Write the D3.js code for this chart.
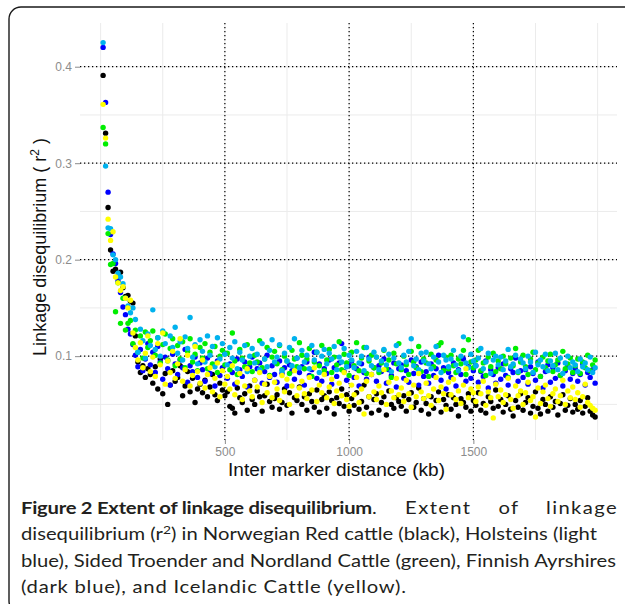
<!DOCTYPE html>
<html>
<head>
<meta charset="utf-8">
<script src="https://cdn.jsdelivr.net/npm/d3@7"></script>
<style>
body { margin: 0; background: #fff; }
</style>
</head>
<body>
<div id="chart"></div>
<script>
// inter marker distance (kb)
var distances = [
	10, 20, 30, 40, 50, 60, 70, 80, 90, 100,
	110, 120, 130, 140, 150, 160, 170, 180, 190, 200,
	210, 220, 230, 240, 250, 260, 270, 280, 290, 300,
	310, 320, 330, 340, 350, 360, 370, 380, 390, 400,
	410, 420, 430, 440, 450, 460, 470, 480, 490, 500,
	510, 520, 530, 540, 550, 560, 570, 580, 590, 600,
	610, 620, 630, 640, 650, 660, 670, 680, 690, 700,
	710, 720, 730, 740, 750, 760, 770, 780, 790, 800,
	810, 820, 830, 840, 850, 860, 870, 880, 890, 900,
	910, 920, 930, 940, 950, 960, 970, 980, 990, 1000,
	1010, 1020, 1030, 1040, 1050, 1060, 1070, 1080, 1090, 1100,
	1110, 1120, 1130, 1140, 1150, 1160, 1170, 1180, 1190, 1200,
	1210, 1220, 1230, 1240, 1250, 1260, 1270, 1280, 1290, 1300,
	1310, 1320, 1330, 1340, 1350, 1360, 1370, 1380, 1390, 1400,
	1410, 1420, 1430, 1440, 1450, 1460, 1470, 1480, 1490, 1500,
	1510, 1520, 1530, 1540, 1550, 1560, 1570, 1580, 1590, 1600,
	1610, 1620, 1630, 1640, 1650, 1660, 1670, 1680, 1690, 1700,
	1710, 1720, 1730, 1740, 1750, 1760, 1770, 1780, 1790, 1800,
	1810, 1820, 1830, 1840, 1850, 1860, 1870, 1880, 1890, 1900,
	1910, 1920, 1930, 1940, 1950, 1960, 1970, 1980, 1990
]

// r2 per breed
var norwegianRed = [
	0.391, 0.331, 0.254, 0.210, 0.188, 0.190, 0.181, 0.187, 0.171, 0.162,
	0.163, 0.157, 0.155, 0.121, 0.094, 0.083, 0.090, 0.078, 0.087, 0.081,
	0.072, 0.089, 0.066, 0.097, 0.061, 0.082, 0.050, 0.070, 0.085, 0.074,
	0.078, 0.090, 0.059, 0.069, 0.084, 0.063, 0.077, 0.052, 0.066, 0.071,
	0.062, 0.075, 0.058, 0.068, 0.081, 0.060, 0.054, 0.072, 0.065, 0.059,
	0.063, 0.048, 0.046, 0.041, 0.067, 0.057, 0.052, 0.061, 0.044, 0.069,
	0.055, 0.050, 0.064, 0.058, 0.043, 0.059, 0.071, 0.053, 0.047, 0.056,
	0.060, 0.045, 0.052, 0.066, 0.049, 0.062, 0.041, 0.057, 0.054, 0.068,
	0.050, 0.058, 0.044, 0.061, 0.053, 0.047, 0.065, 0.042, 0.055, 0.059,
	0.046, 0.063, 0.054, 0.040, 0.057, 0.051, 0.066, 0.048, 0.060, 0.043,
	0.056, 0.049, 0.062, 0.045, 0.053, 0.070, 0.047, 0.058, 0.041, 0.055,
	0.061, 0.044, 0.052, 0.058, 0.039, 0.064, 0.050, 0.046, 0.057, 0.053,
	0.048, 0.059, 0.043, 0.055, 0.062, 0.047, 0.052, 0.067, 0.044, 0.056,
	0.051, 0.040, 0.058, 0.046, 0.054, 0.063, 0.042, 0.055, 0.049, 0.060,
	0.045, 0.057, 0.050, 0.038, 0.056, 0.052, 0.047, 0.061, 0.043, 0.054,
	0.049, 0.062, 0.044, 0.051, 0.041, 0.058, 0.053, 0.046, 0.065, 0.048,
	0.055, 0.042, 0.050, 0.059, 0.045, 0.038, 0.054, 0.047, 0.061, 0.044,
	0.052, 0.057, 0.041, 0.048, 0.063, 0.046, 0.040, 0.055, 0.050, 0.043,
	0.058, 0.047, 0.053, 0.039, 0.051, 0.060, 0.044, 0.049, 0.056, 0.042,
	0.050, 0.045, 0.054, 0.041, 0.048, 0.057, 0.043, 0.039, 0.037
]
var holsteins = [
	0.425, 0.297, 0.233, 0.232, 0.205, 0.200, 0.186, 0.182, 0.175, 0.160,
	0.152, 0.145, 0.150, 0.138, 0.104, 0.128, 0.116, 0.098, 0.123, 0.111,
	0.148, 0.107, 0.119, 0.100, 0.126, 0.113, 0.095, 0.121, 0.109, 0.130,
	0.103, 0.115, 0.096, 0.120, 0.108, 0.140, 0.099, 0.112, 0.092, 0.117,
	0.105, 0.094, 0.121, 0.101, 0.110, 0.089, 0.119, 0.097, 0.113, 0.102,
	0.091, 0.109, 0.098, 0.115, 0.087, 0.104, 0.096, 0.111, 0.084, 0.100,
	0.108, 0.093, 0.102, 0.086, 0.113, 0.097, 0.089, 0.106, 0.117, 0.094,
	0.099, 0.112, 0.085, 0.103, 0.095, 0.109, 0.090, 0.118, 0.098, 0.088,
	0.106, 0.094, 0.101, 0.087, 0.111, 0.096, 0.104, 0.083, 0.100, 0.107,
	0.092, 0.103, 0.097, 0.110, 0.086, 0.099, 0.094, 0.108, 0.089, 0.101,
	0.096, 0.088, 0.105, 0.093, 0.100, 0.085, 0.109, 0.097, 0.090, 0.104,
	0.099, 0.086, 0.095, 0.107, 0.091, 0.102, 0.084, 0.098, 0.111, 0.093,
	0.088, 0.101, 0.094, 0.105, 0.118, 0.090, 0.097, 0.086, 0.103, 0.095,
	0.104, 0.092, 0.087, 0.099, 0.110, 0.094, 0.083, 0.101, 0.096, 0.089,
	0.097, 0.106, 0.091, 0.085, 0.100, 0.120, 0.093, 0.088, 0.102, 0.095,
	0.090, 0.098, 0.108, 0.087, 0.094, 0.103, 0.082, 0.096, 0.100, 0.091,
	0.099, 0.086, 0.095, 0.107, 0.089, 0.092, 0.101, 0.084, 0.097, 0.093,
	0.087, 0.100, 0.094, 0.083, 0.104, 0.091, 0.096, 0.089, 0.102, 0.085,
	0.095, 0.090, 0.103, 0.086, 0.098, 0.082, 0.093, 0.100, 0.088, 0.094,
	0.091, 0.084, 0.097, 0.089, 0.093, 0.086, 0.099, 0.083, 0.088
]
var sidedTroender = [
	0.337, 0.320, 0.227, 0.195, 0.196, 0.146, 0.176, 0.134, 0.160, 0.127,
	0.134, 0.137, 0.113, 0.127, 0.104, 0.121, 0.098, 0.125, 0.109, 0.116,
	0.126, 0.101, 0.119, 0.093, 0.112, 0.123, 0.096, 0.108, 0.118, 0.090,
	0.111, 0.097, 0.115, 0.088, 0.105, 0.118, 0.094, 0.102, 0.085, 0.109,
	0.098, 0.113, 0.087, 0.104, 0.092, 0.110, 0.083, 0.100, 0.106, 0.091,
	0.103, 0.086, 0.124, 0.095, 0.081, 0.107, 0.098, 0.089, 0.112, 0.093,
	0.084, 0.101, 0.094, 0.116, 0.088, 0.097, 0.109, 0.080, 0.099, 0.105,
	0.092, 0.111, 0.086, 0.100, 0.095, 0.082, 0.106, 0.097, 0.089, 0.114,
	0.101, 0.087, 0.097, 0.108, 0.079, 0.094, 0.104, 0.090, 0.111, 0.085,
	0.096, 0.107, 0.083, 0.099, 0.091, 0.115, 0.086, 0.102, 0.093, 0.080,
	0.104, 0.090, 0.114, 0.085, 0.098, 0.109, 0.082, 0.095, 0.101, 0.088,
	0.099, 0.083, 0.093, 0.106, 0.087, 0.096, 0.078, 0.103, 0.092, 0.113,
	0.086, 0.100, 0.091, 0.081, 0.105, 0.094, 0.088, 0.110, 0.084, 0.097,
	0.093, 0.079, 0.102, 0.089, 0.096, 0.111, 0.114, 0.085, 0.099, 0.087,
	0.101, 0.090, 0.083, 0.097, 0.092, 0.106, 0.081, 0.117, 0.094, 0.088,
	0.096, 0.106, 0.085, 0.093, 0.080, 0.099, 0.089, 0.103, 0.084, 0.095,
	0.087, 0.100, 0.092, 0.078, 0.098, 0.090, 0.108, 0.083, 0.094, 0.101,
	0.089, 0.081, 0.097, 0.104, 0.086, 0.093, 0.079, 0.099, 0.088, 0.095,
	0.102, 0.084, 0.091, 0.096, 0.080, 0.105, 0.087, 0.092, 0.098, 0.083,
	0.090, 0.097, 0.082, 0.094, 0.088, 0.101, 0.085, 0.091, 0.096
]
var finnishAyrshire = [
	0.420, 0.363, 0.270, 0.226, 0.206, 0.196, 0.178, 0.166, 0.151, 0.143,
	0.128, 0.123, 0.112, 0.101, 0.089, 0.107, 0.085, 0.097, 0.113, 0.091,
	0.104, 0.083, 0.110, 0.094, 0.076, 0.099, 0.087, 0.070, 0.102, 0.092,
	0.081, 0.096, 0.088, 0.107, 0.073, 0.090, 0.084, 0.099, 0.078, 0.093,
	0.086, 0.074, 0.098, 0.082, 0.091, 0.069, 0.095, 0.080, 0.088, 0.103,
	0.077, 0.092, 0.083, 0.071, 0.097, 0.086, 0.079, 0.094, 0.068, 0.089,
	0.099, 0.075, 0.087, 0.093, 0.072, 0.084, 0.101, 0.078, 0.090, 0.081,
	0.073, 0.095, 0.082, 0.088, 0.069, 0.091, 0.085, 0.076, 0.098, 0.083,
	0.089, 0.070, 0.094, 0.080, 0.086, 0.104, 0.077, 0.092, 0.074, 0.087,
	0.082, 0.096, 0.071, 0.088, 0.079, 0.093, 0.113, 0.084, 0.075, 0.090,
	0.095, 0.078, 0.087, 0.069, 0.092, 0.083, 0.076, 0.099, 0.081, 0.088,
	0.074, 0.090, 0.084, 0.097, 0.072, 0.086, 0.080, 0.093, 0.068, 0.087,
	0.091, 0.077, 0.085, 0.073, 0.096, 0.082, 0.089, 0.070, 0.094, 0.079,
	0.084, 0.072, 0.092, 0.080, 0.087, 0.101, 0.075, 0.088, 0.066, 0.083,
	0.078, 0.093, 0.069, 0.086, 0.081, 0.097, 0.074, 0.089, 0.077, 0.085,
	0.090, 0.073, 0.084, 0.079, 0.095, 0.067, 0.086, 0.081, 0.072, 0.088,
	0.076, 0.092, 0.080, 0.070, 0.087, 0.083, 0.098, 0.074, 0.085, 0.078,
	0.086, 0.071, 0.089, 0.082, 0.075, 0.094, 0.079, 0.067, 0.084, 0.091,
	0.073, 0.088, 0.077, 0.093, 0.080, 0.069, 0.085, 0.090, 0.076, 0.082,
	0.087, 0.074, 0.081, 0.092, 0.070, 0.083, 0.078, 0.086, 0.072
]
var icelandic = [
	0.361, 0.326, 0.242, 0.220, 0.229, 0.182, 0.176, 0.168, 0.172, 0.160,
	0.150, 0.158, 0.124, 0.109, 0.096, 0.114, 0.088, 0.103, 0.121, 0.084,
	0.099, 0.079, 0.113, 0.091, 0.124, 0.071, 0.095, 0.083, 0.105, 0.077,
	0.092, 0.118, 0.074, 0.086, 0.101, 0.069, 0.080, 0.110, 0.084, 0.072,
	0.096, 0.067, 0.081, 0.088, 0.063, 0.077, 0.093, 0.058, 0.085, 0.071,
	0.079, 0.066, 0.090, 0.060, 0.073, 0.082, 0.055, 0.069, 0.087, 0.064,
	0.058, 0.075, 0.068, 0.083, 0.052, 0.071, 0.062, 0.079, 0.057, 0.073,
	0.066, 0.054, 0.080, 0.063, 0.076, 0.050, 0.069, 0.085, 0.059, 0.067,
	0.074, 0.061, 0.056, 0.078, 0.065, 0.088, 0.053, 0.070, 0.062, 0.081,
	0.057, 0.068, 0.076, 0.051, 0.064, 0.072, 0.059, 0.083, 0.055, 0.048,
	0.070, 0.060, 0.078, 0.052, 0.066, 0.040, 0.074, 0.058, 0.081, 0.063,
	0.055, 0.069, 0.062, 0.086, 0.050, 0.073, 0.064, 0.057, 0.077, 0.060,
	0.067, 0.053, 0.075, 0.061, 0.047, 0.070, 0.058, 0.082, 0.063, 0.056,
	0.072, 0.059, 0.049, 0.066, 0.078, 0.054, 0.068, 0.061, 0.045, 0.073,
	0.060, 0.076, 0.055, 0.064, 0.051, 0.070, 0.087, 0.057, 0.066, 0.062,
	0.053, 0.068, 0.061, 0.074, 0.049, 0.063, 0.057, 0.036, 0.071, 0.058,
	0.065, 0.052, 0.060, 0.077, 0.055, 0.046, 0.069, 0.059, 0.064, 0.050,
	0.062, 0.073, 0.054, 0.058, 0.037, 0.067, 0.051, 0.063, 0.070, 0.056,
	0.048, 0.061, 0.066, 0.053, 0.059, 0.075, 0.050, 0.064, 0.057, 0.068,
	0.055, 0.062, 0.047, 0.058, 0.071, 0.052, 0.049, 0.046, 0.044
]

// breeds in drawing order (yellow ends on top)
var breedNames = ['Norwegian Red', 'Finnish Ayrshires', 'Sided Troender and Nordland', 'Holsteins', 'Icelandic']
var breedColors = ['#000000', '#0000ff', '#00ee00', '#00b2ee', '#ffff00']
var breedValues = [norwegianRed, finnishAyrshire, sidedTroender, holsteins, icelandic]

// ticks and grid
var xTicks = [500, 1000, 1500]
var yTicks = [0.1, 0.2, 0.3, 0.4]
var xGrid = [0, 250, 500, 750, 1000, 1250, 1500, 1750, 2000]
var yGrid = [0.05, 0.1, 0.15, 0.2, 0.25, 0.3, 0.35, 0.4]

// caption lines; justified lines use word spacing, the last one only widens its letters
var captionLines = [
	{ 'bold': 'Figure 2 Extent of linkage disequilibrium', 'boldWidth': 351, 'text': '. Extent of linkage', 'fit': 597 },
	{ 'text': 'disequilibrium (r', 'sup': '2', 'after': ') in Norwegian Red cattle (black), Holsteins (light', 'fit': 576 },
	{ 'text': 'blue), Sided Troender and Nordland Cattle (green), Finnish Ayrshires', 'fit': 595 },
	{ 'text': '(dark blue), and Icelandic Cattle (yellow).', 'fit': 385, 'last': true }
]

var visWidth = 625,
		visHeight = 604

var panel = { left: 80, right: 617, top: 23, bottom: 440 }

var vis = d3.select('#chart')
	.append('svg')
		.attr('width', visWidth)
		.attr('height', visHeight)
		.style('font-family', 'Liberation Sans, Arial, sans-serif')

// rounded figure frame, cut by the window on the right and bottom
vis.append('rect')
	.attr('x', 9)
	.attr('y', 7)
	.attr('width', 660)
	.attr('height', 606)
	.attr('rx', 12)
	.attr('fill', 'none')
	.attr('stroke', '#1a1a1a')
	.attr('stroke-width', 1.4)

var x = d3.scaleLinear()
	.domain([-83, 2078])
	.range([panel.left, panel.right])

var y = d3.scaleLinear()
	.domain([0.0131, 0.4453])
	.range([panel.bottom, panel.top])

// light grid
vis.append('g')
	.selectAll('line')
		.data(xGrid).enter()
	.append('line')
		.attr('x1', function(d) { return x(d) })
		.attr('x2', function(d) { return x(d) })
		.attr('y1', panel.top)
		.attr('y2', panel.bottom)
		.attr('stroke', '#ebebeb')
		.attr('stroke-width', 1)

vis.append('g')
	.selectAll('line')
		.data(yGrid).enter()
	.append('line')
		.attr('x1', panel.left)
		.attr('x2', panel.right)
		.attr('y1', function(d) { return y(d) })
		.attr('y2', function(d) { return y(d) })
		.attr('stroke', '#ebebeb')
		.attr('stroke-width', 1)

// dotted reference lines
vis.append('g')
	.selectAll('line')
		.data(xTicks).enter()
	.append('line')
		.attr('x1', function(d) { return x(d) })
		.attr('x2', function(d) { return x(d) })
		.attr('y1', panel.top)
		.attr('y2', panel.bottom)
		.attr('stroke', '#000')
		.attr('stroke-width', 1.2)
		.attr('stroke-dasharray', '1.3,2.7')

vis.append('g')
	.selectAll('line')
		.data(yTicks).enter()
	.append('line')
		.attr('x1', panel.left)
		.attr('x2', panel.right)
		.attr('y1', function(d) { return y(d) })
		.attr('y2', function(d) { return y(d) })
		.attr('stroke', '#000')
		.attr('stroke-width', 1.2)
		.attr('stroke-dasharray', '1.3,2.7')

// axes
vis.append('g')
	.attr('transform', 'translate(0,' + panel.bottom + ')')
	.call(d3.axisBottom(x).tickValues(xTicks).tickSize(4).tickPadding(3).tickFormat(d3.format('d')))

vis.append('g')
	.attr('transform', 'translate(' + panel.left + ',0)')
	.call(d3.axisLeft(y).tickValues(yTicks).tickSize(5).tickPadding(3).tickFormat(d3.format('.1f')))

vis.selectAll('.domain').remove()
vis.selectAll('.tick line').attr('stroke', '#8c8c8c')
vis.selectAll('.tick text')
	.attr('fill', '#8c8c8c')
	.style('font-family', 'Liberation Sans, Arial, sans-serif')
	.style('font-size', '12px')

// points
breedValues.forEach(function(values, i) {
	vis.append('g')
		.attr('class', 'breed')
		.selectAll('circle')
			.data(values).enter()
		.append('circle')
			.attr('cx', function(d, j) { return x(distances[j]) })
			.attr('cy', function(d) { return y(d) })
			.attr('r', 2.7)
			.attr('fill', breedColors[i])
})

// axis titles
vis.append('text')
	.attr('x', 336.5)
	.attr('y', 476)
	.attr('text-anchor', 'middle')
	.attr('textLength', 217)
	.attr('lengthAdjust', 'spacingAndGlyphs')
	.style('font-size', '18px')
	.attr('fill', '#111')
	.text('Inter marker distance (kb)')

var yTitle = vis.append('text')
	.attr('transform', 'translate(46,' + 247 + ') rotate(-90)')
	.attr('text-anchor', 'middle')
	.style('font-size', '18px')
	.attr('fill', '#111')

yTitle.append('tspan').text('Linkage disequilibrium ( r')
yTitle.append('tspan').attr('dy', -7).style('font-size', '12px').text('2')
yTitle.append('tspan').attr('dy', 7).text(' )')

// caption
var captionLeft = 21
var caption = vis.append('g')
	.style('font-family', 'Lato, sans-serif')
	.style('font-size', '17.5px')
	.attr('fill', '#231f20')

var captionParts = captionLines.map(function(line, i) {
	var t = caption.append('text')
		.attr('x', 0)
		.attr('y', 514 + i * 26.5)
	var b = null
	if (line.bold) {
		b = t.append('tspan').style('font-weight', 'bold').text(line.bold)
	}
	var r = t.append('tspan').text(line.text)
	if (line.sup) {
		t.append('tspan').attr('dy', -6).style('font-size', '12px').text(line.sup)
		t.append('tspan').attr('dy', 6).text(line.after)
	}
	return { 'text': t, 'bold': b, 'regular': r }
})

// one horizontal stretch for the whole caption, set by the tightest plain line
var captionScale = d3.min(captionLines, function(line, i) {
	return line.fit && !line.bold && !line.last ? line.fit / captionParts[i].text.node().getComputedTextLength() : 1.3
})
caption.attr('transform', 'translate(' + captionLeft + ',0) scale(' + captionScale + ',1)')

captionLines.forEach(function(line, i) {
	var parts = captionParts[i]
	if (parts.bold) {
		// bold run fitted by letter spacing, the rest shared between letters and words
		var boldNatural = parts.bold.node().getComputedTextLength()
		parts.bold.style('letter-spacing', ((line.boldWidth / captionScale - boldNatural) / line.bold.length) + 'px')
		var restNatural = parts.regular.node().getComputedTextLength(),
				restSpaces = line.text.split(' ').length - 1,
				restExtra = (line.fit - line.boldWidth) / captionScale - restNatural
		parts.regular
			.style('letter-spacing', (restExtra * 0.3 / line.text.length) + 'px')
			.style('word-spacing', (restExtra * 0.7 / restSpaces) + 'px')
	} else if (line.last) {
		var lastNatural = parts.text.node().getComputedTextLength()
		parts.text.style('letter-spacing', ((line.fit / captionScale - lastNatural) / line.text.length) + 'px')
	} else {
		var natural = parts.text.node().getComputedTextLength(),
				spaces = parts.text.text().split(' ').length - 1
		parts.text.style('word-spacing', ((line.fit / captionScale - natural) / spaces) + 'px')
	}
})
</script>
</body>
</html>
